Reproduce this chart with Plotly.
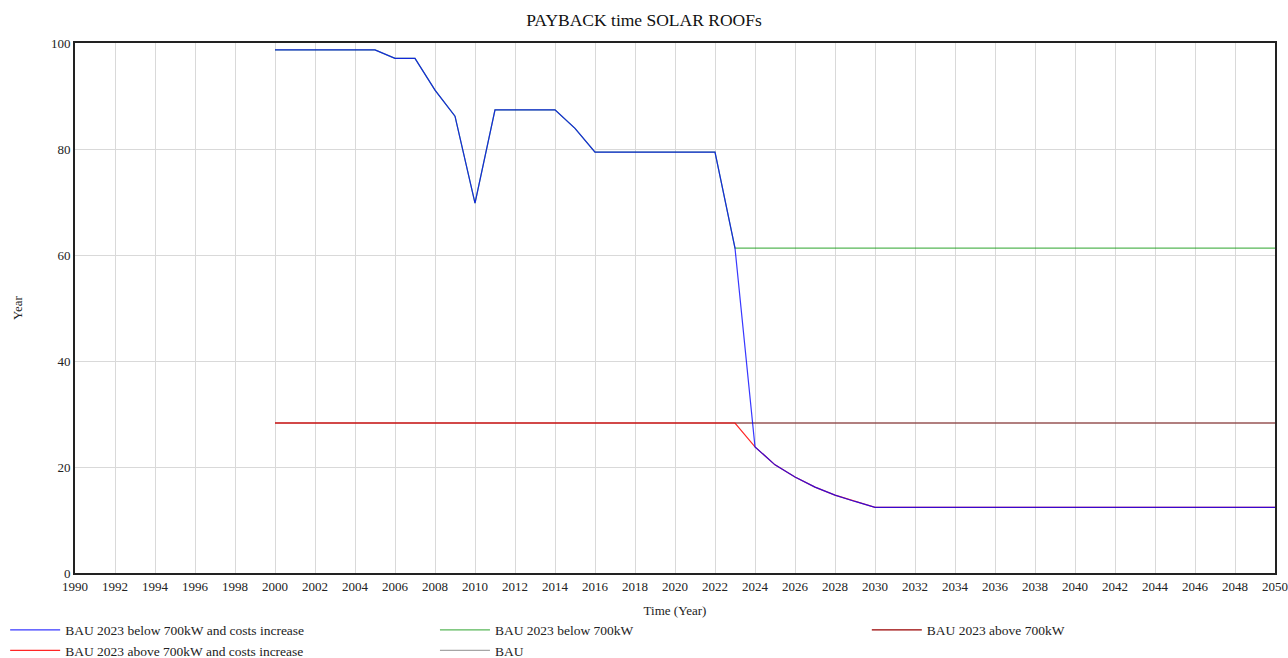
import plotly.graph_objects as go

years = list(range(2000, 2051))

below_costs = [98.7, 98.7, 98.7, 98.7, 98.7, 98.7, 97.1, 97.1, 91.1, 86.2,
               69.8, 87.4, 87.4, 87.4, 87.4, 83.9, 79.4, 79.4, 79.4, 79.4,
               79.4, 79.4, 79.4, 61.3, 23.8, 20.4, 18.1, 16.2, 14.7, 13.5,
               12.4] + [12.4] * 20
below = below_costs[:24] + [61.3] * 27
above_costs = [28.3] * 24 + below_costs[24:]
above = [28.3] * 51
bau = [28.3] * 51

names = ["BAU 2023 below 700kW and costs increase", "BAU 2023 below 700kW",
         "BAU 2023 above 700kW", "BAU 2023 above 700kW and costs increase", "BAU"]
colors = ["#0000ff", "#119911", "#990000", "#ff0000", "#808080"]
legend_of = ["legend", "legend2", "legend3", "legend", "legend2"]

fig = go.Figure()
# drawing order: dark red, BAU, green, red, blue
draw = [(2, above, 1.0), (4, bau, 0.7), (1, below, 0.7), (3, above_costs, 0.85), (0, below_costs, 0.78)]
for idx, vals, op in draw:
    fig.add_trace(go.Scatter(x=years, y=vals, mode="lines", name=names[idx],
                             line=dict(color=colors[idx], width=1.2), opacity=op,
                             legend=legend_of[idx], legendrank=idx + 1))

font = "Liberation Serif, Times New Roman, serif"
leg_common = dict(orientation="v", xref="container", yref="container", y=0.066,
                  xanchor="left", yanchor="top", itemwidth=50,
                  font=dict(family=font, size=13.5, color="#222"), traceorder="normal",
                  bgcolor="rgba(0,0,0,0)")
fig.update_layout(
    width=1288, height=658,
    paper_bgcolor="white", plot_bgcolor="white",
    margin=dict(l=75, r=13, t=43, b=85, autoexpand=False),
    font=dict(family=font, size=13, color="#222"),
    title=dict(text="PAYBACK time SOLAR ROOFs", x=0.5, xanchor="center", y=0.97,
               yanchor="middle", font=dict(family=font, size=17.5, color="#111")),
    showlegend=True,
    legend=dict(x=0.004, **leg_common),
    legend2=dict(x=0.3377, **leg_common),
    legend3=dict(x=0.673, **leg_common),
    annotations=[dict(text="Year", textangle=-90, xref="paper", yref="paper",
                      x=-0.0483, y=0.5, xanchor="center", yanchor="middle",
                      showarrow=False, font=dict(family=font, size=13, color="#222"))],
)
fig.update_xaxes(range=[1990, 2050], dtick=2, tick0=1990, showgrid=True, gridcolor="#d9d9d9",
                 gridwidth=1, showline=True, linecolor="#222", linewidth=2, mirror=True,
                 ticks="", zeroline=False, automargin=False,
                 title=dict(text="Time (Year)", font=dict(family=font, size=13), standoff=13))
fig.update_yaxes(range=[0, 100], dtick=20, showgrid=True, gridcolor="#d9d9d9", gridwidth=1,
                 showline=True, linecolor="#222", linewidth=2, mirror=True, ticks="",
                 zeroline=False, automargin=False)
fig.write_html("out.html", config={"displayModeBar": False},
               post_script="document.body.style.margin='0';document.body.style.overflow='hidden';")
